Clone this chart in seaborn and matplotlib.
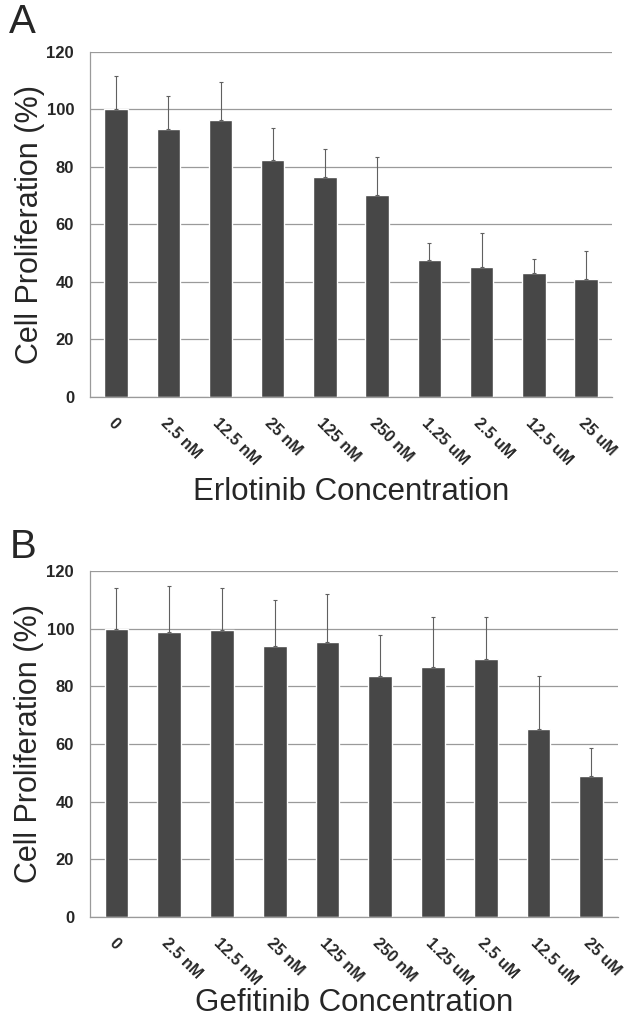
import matplotlib
matplotlib.use("Agg")
import matplotlib.pyplot as plt
import numpy as np
import pandas as pd
import seaborn as sns

# 浓度标签
conc_labels = ["0", "2.5 nM", "12.5 nM", "25 nM", "125 nM", "250 nM",
               "1.25 uM", "2.5 uM", "12.5 uM", "25 uM"]

# A: Erlotinib
erlotinib_mean = [100, 93.2, 96.5, 82.5, 76.5, 70.2, 47.8, 45.2, 43.0, 41.2]
erlotinib_err = [11.7, 11.4, 13.2, 11.2, 9.8, 13.3, 5.8, 12.0, 5.0, 9.6]

# B: Gefitinib
gefitinib_mean = [100, 98.7, 99.4, 94.1, 95.2, 83.4, 86.8, 89.6, 65.3, 49.0]
gefitinib_err = [14.0, 15.9, 14.7, 15.9, 16.7, 14.3, 17.2, 14.4, 18.3, 9.6]

sns.set_style("white")
plt.rcParams['font.family'] = ['Liberation Sans', 'DejaVu Sans']

BAR_COLOR = "#474747"
GRID_COLOR = "#9a9a9a"


def draw_panel(fig, rect, means, errs, xlabel, letter, letter_y, xlabel_y):
    ax = fig.add_axes(rect)
    df = pd.DataFrame({"conc": conc_labels, "value": means})
    sns.barplot(data=df, x="conc", y="value", color=BAR_COLOR,
                width=0.45, saturation=1, errorbar=None, ax=ax)
    x = np.arange(len(means))
    # 只画上半部分误差线
    ax.errorbar(x, means, yerr=[np.zeros(len(errs)), errs], fmt="none",
                ecolor="#606060", elinewidth=0.8, capsize=1.6, capthick=0.8)

    ax.set_ylim(0, 120)
    ax.set_xlim(-0.5, len(means) - 0.5)
    ax.set_yticks(range(0, 121, 20))
    ax.yaxis.grid(True, color=GRID_COLOR, linewidth=0.9)
    ax.set_axisbelow(True)
    for s in ["top", "right"]:
        ax.spines[s].set_visible(False)
    for s in ["left", "bottom"]:
        ax.spines[s].set_color(GRID_COLOR)
        ax.spines[s].set_linewidth(0.9)

    ax.set_xticks(x)
    ax.set_xticklabels(conc_labels, rotation=-45, ha="left",
                       rotation_mode="anchor", fontsize=11.5, fontweight="bold")
    ax.set_xticks(np.arange(-0.5, len(means)), minor=True)
    ax.tick_params(axis="x", which="major", length=0, pad=13)
    ax.tick_params(axis="x", which="minor", length=4, color=GRID_COLOR,
                   width=0.9, direction="out")
    ax.tick_params(axis="y", length=9.5, width=0.9, color=GRID_COLOR,
                   direction="out", pad=2)
    for lab in ax.get_yticklabels():
        lab.set_fontsize(12)
        lab.set_fontweight("bold")

    ax.set_ylabel("Cell Proliferation (%)", fontsize=22)
    ax.yaxis.set_label_coords(-0.115, 0.5)
    ax.yaxis.label.set_verticalalignment("center")
    ax.set_xlabel(xlabel, fontsize=22.5)
    ax.xaxis.set_label_coords(0.5, xlabel_y)
    ax.xaxis.label.set_verticalalignment("center")
    fig.text(0.015, letter_y, letter, fontsize=29, va="center", ha="left")
    return ax


fig = plt.figure(figsize=(6.26, 10.25), dpi=100)
draw_panel(fig, [0.1438, 0.6127, 0.834, 0.3366], erlotinib_mean,
           erlotinib_err, "Erlotinib Concentration", "A", 0.979, -0.275)
draw_panel(fig, [0.1438, 0.1054, 0.843, 0.3376], gefitinib_mean,
           gefitinib_err, "Gefitinib Concentration", "B", 0.466, -0.25)

fig.savefig("out.png", dpi=100)
plt.close(fig)
